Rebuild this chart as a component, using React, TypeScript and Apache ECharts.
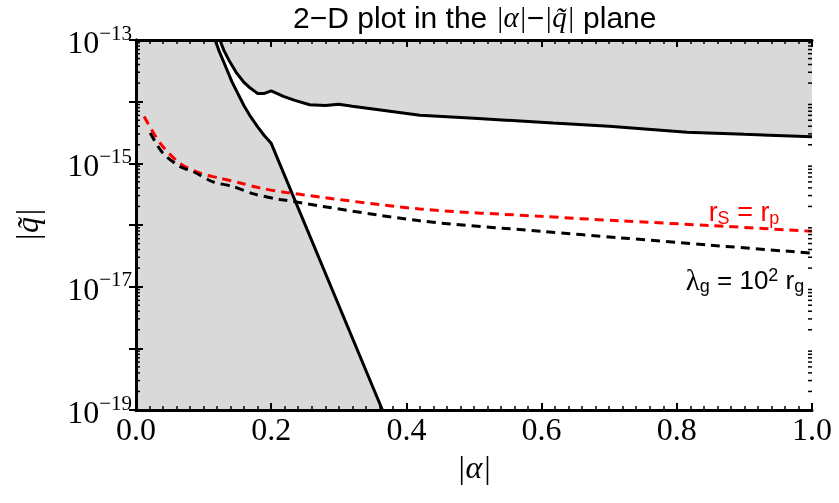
import React, { useEffect, useRef } from 'react';
import * as echarts from 'echarts';

const SERIF = '"Liberation Serif", "Times New Roman", serif';
const SANS = '"Liberation Sans", Arial, sans-serif';

// Left exclusion boundary (steep curve)
const alphaA = [0.117, 0.123, 0.129, 0.135, 0.142, 0.15, 0.16, 0.17, 0.18, 0.19, 0.2, 0.3645];
const qA = [1e-13, 6.6e-14, 4.6e-14, 3.2e-14, 2.1e-14, 1.4e-14, 8.5e-15, 5.6e-15, 3.9e-15, 2.8e-15, 2.11e-15, 1e-19];

// Upper exclusion boundary
const alphaB = [0.124, 0.13, 0.137, 0.149, 0.159, 0.169, 0.18, 0.19, 0.2, 0.21, 0.218, 0.235, 0.257, 0.28, 0.3, 0.32, 0.42, 0.5, 0.617, 0.7, 0.815, 0.9, 1.0];
const qB = [1e-13, 6.8e-14, 4.8e-14, 2.9e-14, 2.1e-14, 1.66e-14, 1.36e-14, 1.36e-14, 1.5e-14, 1.34e-14, 1.22e-14, 1.05e-14, 8.9e-15, 8.7e-15, 9.1e-15, 8.4e-15, 6.0e-15, 5.4e-15, 4.5e-15, 4.0e-15, 3.2e-15, 2.95e-15, 2.7e-15];

// r_S = r_p (red dashed)
const alphaR = [0.012, 0.036, 0.065, 0.095, 0.124, 0.154, 0.183, 0.223, 0.42, 0.6, 0.716, 0.85, 1.0];
const qR = [5.75e-15, 2.11e-15, 1.0e-15, 6.9e-16, 5.75e-16, 4.8e-16, 4.0e-16, 3.35e-16, 1.82e-16, 1.38e-16, 1.17e-16, 9.8e-17, 7.9e-17];

// lambda_g = 10^2 r_g (black dashed)
const alphaL = [0.021, 0.04, 0.065, 0.085, 0.114, 0.144, 0.174, 0.213, 0.42, 0.6, 0.716, 0.85, 1.0];
const qL = [3.1e-15, 1.45e-15, 8.9e-16, 7.3e-16, 5.0e-16, 4.2e-16, 3.2e-16, 2.6e-16, 1.17e-16, 7.9e-17, 6.2e-17, 4.7e-17, 3.5e-17];

const xTicks = [0, 0.2, 0.4, 0.6, 0.8, 1.0];
const yLabelExponents = [-13, -15, -17, -19];

const GRAY = '#d9d9d9';

const zip = (a: number[], b: number[]) => a.map((v, i) => [v, b[i]]);

export default function App() {
  const ref = useRef<HTMLDivElement>(null);
  useEffect(() => {
    if (!ref.current) return;
    const chart = echarts.init(ref.current, undefined, { renderer: 'svg' });

    const minorVals: number[][] = [];
    for (let e = -19; e < -13; e++) for (let k = 2; k <= 9; k++) minorVals.push([0, k * Math.pow(10, e)]);

    const xAxisBase = {
      type: 'value',
      min: xTicks[0],
      max: xTicks[xTicks.length - 1],
      interval: 0.2,
      z: 10,
      splitLine: { show: false },
      axisLine: { show: true, lineStyle: { color: '#000', width: 3 } },
      axisTick: { show: true, inside: true, length: 7, lineStyle: { color: '#000', width: 2 } },
      minorTick: { show: true, splitNumber: 10, length: 4, lineStyle: { color: '#000', width: 1.5 } },
    };
    const yAxisBase = {
      type: 'log',
      logBase: 10,
      min: 1e-19,
      max: 1e-13,
      z: 10,
      splitLine: { show: false },
      axisLine: { show: true, lineStyle: { color: '#000', width: 3 } },
      axisTick: { show: true, inside: true, length: 7, lineStyle: { color: '#000', width: 2 } },
    };

    chart.setOption({
      animation: false,
      grid: { left: 136, top: 40, right: 27, bottom: 93, show: false, outerBoundsMode: 'none' },
      xAxis: [
        {
          ...xAxisBase,
          position: 'bottom',
          axisLabel: {
            show: true,
            color: '#000',
            fontFamily: SERIF,
            fontSize: 32,
            margin: 3,
            formatter: (v: number) => v.toFixed(1),
          },
        },
        { ...xAxisBase, position: 'top', axisLabel: { show: false } },
      ],
      yAxis: [
        {
          ...yAxisBase,
          position: 'left',
          axisLabel: {
            show: true,
            interval: 0,
            margin: 4,
            color: '#000',
            formatter: (v: number) => {
              const e = Math.round(Math.log10(v));
              if (!yLabelExponents.includes(e)) return '';
              return `{b|10}{s|−${-e}}`;
            },
            rich: {
              b: { fontFamily: SERIF, fontSize: 32, color: '#000', verticalAlign: 'bottom', padding: [4, 0, 0, 0] },
              s: { fontFamily: SERIF, fontSize: 21, color: '#000', verticalAlign: 'top' },
            },
          },
        },
        { ...yAxisBase, position: 'right', axisLabel: { show: false } },
      ],
      series: [
        {
          type: 'line',
          data: [[0, 1e-13], ...zip(alphaA, qA)],
          showSymbol: false,
          lineStyle: { width: 0 },
          areaStyle: { color: GRAY, opacity: 1, origin: 'start' },
          z: 1,
          silent: true,
        },
        {
          type: 'line',
          data: zip(alphaB, qB),
          showSymbol: false,
          lineStyle: { width: 0 },
          areaStyle: { color: GRAY, opacity: 1, origin: 'end' },
          z: 1,
          silent: true,
        },
        {
          type: 'line',
          data: zip(alphaR, qR),
          showSymbol: false,
          smooth: 0.3,
          lineStyle: { color: '#ff0000', width: 3, type: [9, 6] },
          z: 3,
        },
        {
          type: 'line',
          data: zip(alphaL, qL),
          showSymbol: false,
          smooth: 0.3,
          lineStyle: { color: '#000', width: 3, type: [9, 6] },
          z: 3,
        },
        {
          type: 'line',
          data: zip(alphaA, qA),
          showSymbol: false,
          lineStyle: { color: '#000', width: 3 },
          z: 4,
        },
        {
          type: 'line',
          data: zip(alphaB, qB),
          showSymbol: false,
          lineStyle: { color: '#000', width: 3 },
          z: 4,
        },
        {
          type: 'custom',
          z: 10,
          silent: true,
          clip: false,
          data: minorVals,
          encode: { x: 0, y: 1 },
          renderItem: (params: any, api: any) => {
            const v = api.value(1);
            const pl = api.coord([0, v]);
            const pr = api.coord([1, v]);
            return {
              type: 'group',
              children: [
                { type: 'line', shape: { x1: pl[0], y1: pl[1], x2: pl[0] + 4, y2: pl[1] }, style: { stroke: '#000', lineWidth: 1.5 } },
                { type: 'line', shape: { x1: pr[0] - 4, y1: pr[1], x2: pr[0], y2: pr[1] }, style: { stroke: '#000', lineWidth: 1.5 } },
              ],
            };
          },
        },
      ],
      graphic: [
        {
          type: 'text',
          x: 293,
          y: 17,
          z: 100,
          style: {
            text: '{s|2−D plot in the }{m||α|}{s|−}{m||q̃|}{s| plane}',
            align: 'left',
            verticalAlign: 'middle',
            rich: {
              s: { fontFamily: SANS, fontSize: 30, fill: '#000' },
              m: { fontFamily: SERIF, fontStyle: 'italic', fontSize: 29, fill: '#000' },
            },
          },
        },
        {
          type: 'text',
          x: 474,
          y: 467,
          z: 100,
          style: {
            text: '|α|',
            align: 'center',
            verticalAlign: 'middle',
            fontFamily: SERIF,
            fontStyle: 'italic',
            fontSize: 32,
            fill: '#000',
          },
        },
        {
          type: 'text',
          x: 27,
          y: 225,
          z: 100,
          rotation: Math.PI / 2,
          style: {
            text: '|q̃|',
            align: 'center',
            verticalAlign: 'middle',
            fontFamily: SERIF,
            fontStyle: 'italic',
            fontSize: 32,
            fill: '#000',
          },
        },
        {
          type: 'text',
          x: 744,
          y: 212,
          z: 100,
          style: {
            text: '{r|r}{sub|S}{r| = r}{sub|p}',
            align: 'center',
            verticalAlign: 'middle',
            rich: {
              r: { fontFamily: SANS, fontSize: 27, fill: '#ff0000' },
              sub: { fontFamily: SANS, fontSize: 18, fill: '#ff0000', verticalAlign: 'bottom', padding: [11, 0, 0, 0] },
            },
          },
        },
        {
          type: 'text',
          x: 745,
          y: 280,
          z: 100,
          style: {
            text: '{l|λ}{sub|g}{r| = 10}{sup|2}{r| r}{sub|g}',
            align: 'center',
            verticalAlign: 'middle',
            rich: {
              l: { fontFamily: SERIF, fontSize: 29, fill: '#000' },
              r: { fontFamily: SANS, fontSize: 26, fill: '#000' },
              sub: { fontFamily: SANS, fontSize: 18, fill: '#000', verticalAlign: 'bottom', padding: [11, 0, 0, 0] },
              sup: { fontFamily: SANS, fontSize: 18, fill: '#000', verticalAlign: 'top', padding: [0, 0, 9, 0] },
            },
          },
        },
      ],
    });
    return () => chart.dispose();
  }, []);
  return <div ref={ref} style={{ position: 'fixed', left: 0, top: 0, width: 839, height: 503 }} />;
}
